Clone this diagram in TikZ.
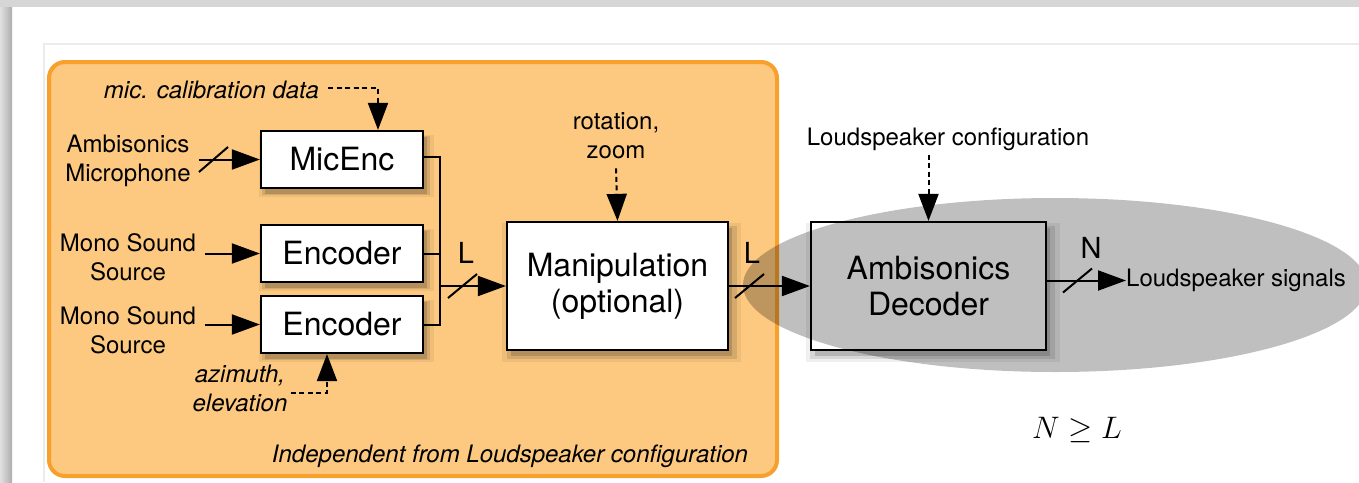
\documentclass[tikz,border=0pt]{standalone}
\usepackage{fontspec}
\setmainfont{TeX Gyre Heros}
\usetikzlibrary{arrows.meta,shadows,calc}
\definecolor{orfill}{HTML}{FDC980}
\definecolor{ordraw}{HTML}{F8A02C}
\begin{document}
\begin{tikzpicture}[x=1pt,y=-1pt,
  softshadow/.style={
    general shadow={fill=black, opacity=0.06, shadow xshift=4pt, shadow yshift=-6pt, shadow scale=1.08},
    general shadow={fill=black, opacity=0.10, shadow xshift=4pt, shadow yshift=-6pt, shadow scale=1.04},
    general shadow={fill=black, opacity=0.15, shadow xshift=4pt, shadow yshift=-6pt}},
  blk/.style={draw, line width=2.2pt, fill=white, inner sep=0pt, align=center,
    font=\fontsize{32}{36}\selectfont, softshadow},
  txt/.style={inner sep=0pt, align=center, font=\fontsize{24}{29}\selectfont},
  itxt/.style={inner sep=0pt, align=center, font=\fontsize{24}{29}\selectfont\itshape},
  lbl/.style={inner sep=0pt, font=\fontsize{29}{32}\selectfont},
  arr/.style={line width=2pt, -{Triangle[length=28pt,width=20pt]}},
  dasharr/.style={line width=2pt, dash pattern=on 5pt off 3.5pt, -{Triangle[length=27pt,width=20pt]}},
  wire/.style={line width=2pt},
  slash/.style={line width=2pt}]
\useasboundingbox (0,0) rectangle (1359,482);
% page background
\fill[white] (0,0) rectangle (1359,482);
\fill[black!16] (0,0) rectangle (1359,7);
\shade[left color=black!12, right color=black!32] (0,7) rectangle (12,482);
\draw[black!8, line width=1.5pt] (44,482) -- (44,44) -- (1359,44);
% orange region
\draw[ordraw, fill=orfill, line width=4pt, rounded corners=16pt] (49,62) rectangle (777,476);

% blocks
\node[blk, minimum width=162pt, minimum height=57pt] (micenc) at (342,159.5) {MicEnc};
\node[blk, minimum width=162pt, minimum height=57pt] (enc1) at (342,253.5) {Encoder};
\node[blk, minimum width=162pt, minimum height=57pt] (enc2) at (342,324.5) {Encoder};
\node[blk, minimum width=221pt, minimum height=128pt] (manip) at (617.5,286) {Manipulation\\(optional)};
\node[blk, minimum width=235pt, minimum height=128pt] (dec) at (928.5,286) {Ambisonics\\Decoder};

% texts
\node[itxt] (calib) at (211.5,90) {mic. calibration data};
\node[txt] (ambi) at (128,161) {Ambisonics\\Microphone};
\node[txt] (mono1) at (128,257) {Mono Sound\\Source};
\node[txt] (mono2) at (128,330) {Mono Sound\\Source};
\node[itxt] (azel) at (240,388) {azimuth,\\elevation};
\node[txt] (rot) at (616,136) {rotation,\\zoom};
\node[txt] (lsconf) at (948,139) {Loudspeaker configuration};
\node[txt, anchor=west] (lssig) at (1126,280.5) {Loudspeaker signals};
\node[itxt] (indep) at (510,456) {Independent from Loudspeaker configuration};
\node[lbl] (L1) at (466,252.5) {L};
\node[lbl] (L2) at (752,252.5) {L};
\node[lbl] (N1) at (1091,247.5) {N};
\node[inner sep=0pt, scale=1.25, transform shape, font=\fontsize{24.88}{30}\selectfont] (ineq) at (1077,430) {$N \geq L$};

% inputs
\draw[arr] ([xshift=8pt]ambi.east |- micenc.west) -- (micenc.west);
\draw[arr] ([xshift=9pt]mono1.east |- enc1.west) -- (enc1.west);
\draw[arr] ([xshift=9pt]mono2.east |- enc2.west) -- (enc2.west);
\draw[slash] (213.5,159.5) ++(-14.5,12.5) -- ++(29,-25);

% control inputs
\draw[dasharr] ([xshift=9pt,yshift=2pt]calib.east) -| ([xshift=36pt]micenc.north);
\draw[dasharr] ([xshift=3pt,yshift=-5pt]azel.east) -| ([xshift=-15pt]enc2.south);
\draw[dasharr] ([yshift=-9pt]rot.south) -- (manip.north);
\draw[dasharr] ([yshift=-4pt]lsconf.south -| dec.north) -- (dec.north);

% bus
\coordinate (bt) at (440,157);
\coordinate (bb) at (440,324.5);
\draw[wire] ([yshift=2.5pt]micenc.east) -- (bt) -- (bb) -- (enc2.east);
\draw[wire] (enc1.east) -- (enc1.east -| bt);
\draw[arr] (bt |- manip.west) -- (manip.west);
\draw[slash] (462.5,286) ++(-14.5,12) -- ++(29,-24);

% manipulation -> decoder
\draw[arr] (manip.east) -- (dec.west);
\draw[slash] (749.5,286) ++(-14.5,12) -- ++(29,-24);

% decoder -> loudspeakers
\draw[arr] ([yshift=5.5pt]dec.east) -- (lssig.west);
\draw[slash] (1077.5,280.5) ++(-14.5,12) -- ++(29,-24);

% grey ellipse overlay
\fill[black, fill opacity=0.25] (1055,285) ellipse [x radius=312pt, y radius=87pt];
\end{tikzpicture}
\end{document}
